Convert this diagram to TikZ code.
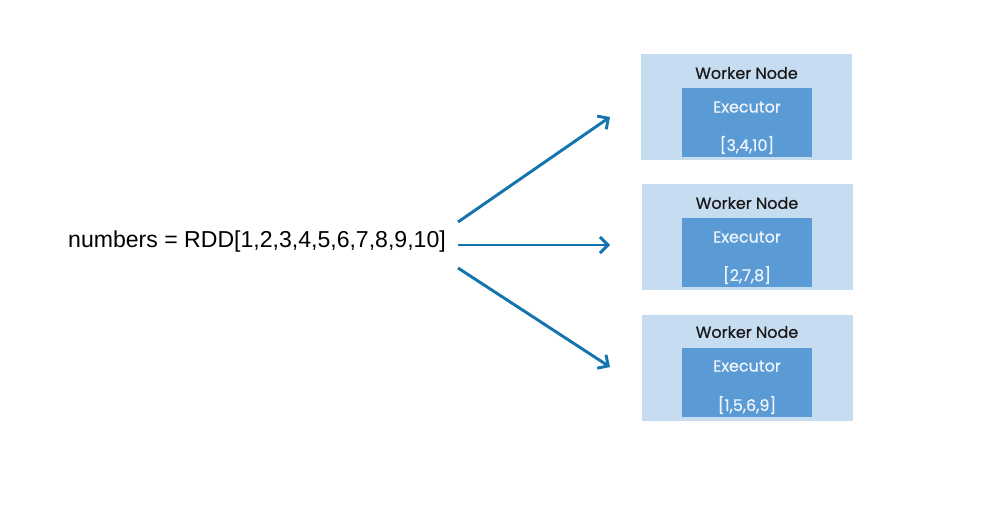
\documentclass[tikz,border=0pt]{standalone}
\usepackage{fontspec}
\setmainfont{Liberation Sans}
\newfontfamily\workerfont{Poppins}[FakeBold=0.6]
\usetikzlibrary{arrows.meta}
\definecolor{workerbg}{HTML}{C6DCF0}
\definecolor{execbg}{HTML}{5B9BD5}
\definecolor{arrowblue}{HTML}{1474AE}
\definecolor{exectext}{HTML}{EEF4FB}

\begin{document}
\begin{tikzpicture}[x=0.75pt, y=-0.75pt,
    worker/.style={rectangle, fill=workerbg, minimum width=158.25pt, minimum height=79.5pt, inner sep=0pt},
    executor/.style={rectangle, fill=execbg, minimum width=98pt, minimum height=52pt, inner sep=0pt},
    wlabel/.style={text=black!90, font=\workerfont\fontsize{12}{14}\selectfont},
    elabel/.style={text=exectext, font=\workerfont\fontsize{12}{14}\selectfont},
    flow/.style={draw=arrowblue, line width=2.2pt, -{Straight Barb[length=6pt, width=12pt, line width=2.2pt]}}]
    \useasboundingbox (0,0) rectangle (987,528);

    \node (rdd) at (257,242) [font=\fontsize{17.3}{20}\selectfont] {numbers = RDD[1,2,3,4,5,6,7,8,9,10]};

    % worker nodes
    \node (w1) at (746.5,107) [worker] {};
    \node (e1) at (747,122.5) [executor] {};
    \node (w1l) at (746.5,73) [wlabel] {Worker Node};
    \node (e1l) at (747,107) [elabel] {Executor};
    \node (p1) at (747,145) [elabel] {[3,4,10]};

    \node (w2) at (747,237) [worker] {};
    \node (e2) at (747,252.5) [executor] {};
    \node (w2l) at (747,203) [wlabel] {Worker Node};
    \node (e2l) at (747,237) [elabel] {Executor};
    \node (p2) at (747,275) [elabel] {[2,7,8]};

    \node (w3) at (747,367.5) [worker] {};
    \node (e3) at (747,382.5) [executor] {};
    \node (w3l) at (747,332) [wlabel] {Worker Node};
    \node (e3l) at (747,366) [elabel] {Executor};
    \node (p3) at (747,405) [elabel] {[1,5,6,9]};

    % arrows
    \coordinate (s1) at (458,222);
    \coordinate (s2) at (458,245);
    \coordinate (s3) at (458,268);
    \coordinate (t1) at (610,117);
    \coordinate (t2) at (610,245);
    \coordinate (t3) at (610,367);

    \draw[flow] (s1) -- (t1);
    \draw[flow] (s2) -- (t2);
    \draw[flow] (s3) -- (t3);
\end{tikzpicture}
\end{document}
